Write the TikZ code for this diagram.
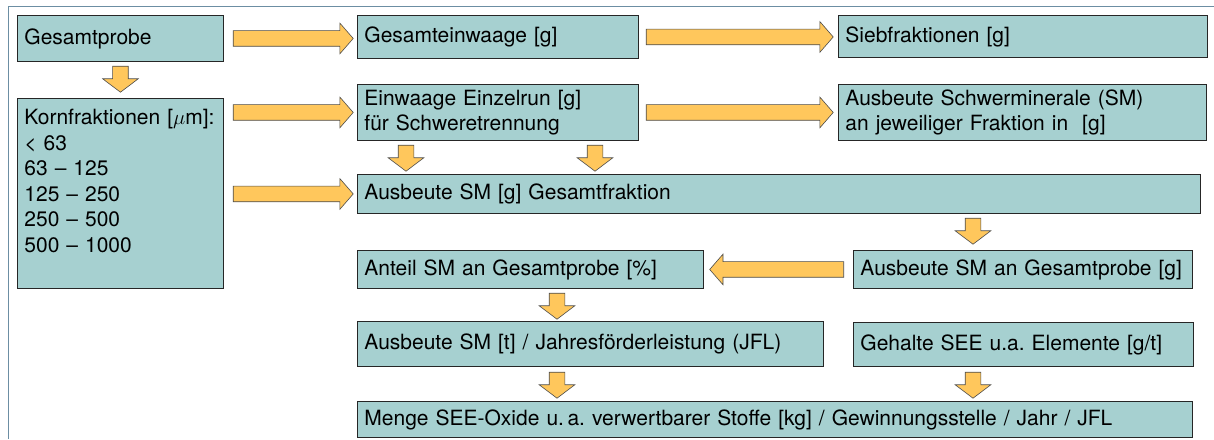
\documentclass[tikz,border=0pt]{standalone}
\usepackage{fontspec}
\setmainfont{TeX Gyre Heros}
\usetikzlibrary{positioning,shapes.arrows}
\definecolor{kastenfarbe}{HTML}{A6D0D0}
\definecolor{pfeilfarbe}{HTML}{FFC75C}
\definecolor{rahmenfarbe}{HTML}{6C8EA3}

\begin{document}
\begin{tikzpicture}[x=1pt,y=-1pt,
                    kasten/.style = {draw=black!85, line width=0.9pt, fill=kastenfarbe,
                                     anchor=north west, inner xsep=7pt, inner ysep=0pt,
                                     align=left, font=\fontsize{21}{25.5}\selectfont},
                    pfeil/.style = {single arrow, draw=black!70, line width=0.6pt, fill=pfeilfarbe,
                                    inner sep=7.5pt, minimum height=#1,
                                    single arrow head extend=7.5pt, single arrow tip angle=98},
                    rechts/.style = {pfeil=#1, anchor=west},
                    links/.style = {pfeil=#1, shape border rotate=180, anchor=east},
                    runter/.style = {pfeil=26pt, shape border rotate=270, anchor=north,
                                     single arrow head extend=10pt, single arrow tip angle=106}]
  \useasboundingbox (0,0) rectangle (1214,439);
  \draw[rahmenfarbe, line width=0.8pt] (1214,6) -- (8,6) -- (8,439);

  % Kaesten
  \node[kasten, text width=192pt, minimum height=46pt] (probe) at (17,15) {Gesamtprobe};
  \node[kasten, text width=267pt, minimum height=43pt] (einwaage) at (357,15) {Gesamteinwaage [g]};
  \node[kasten, text width=355pt, minimum height=42pt] (sieb) at (838,15) {Siebfraktionen [g]};
  \node[kasten, text width=192pt, minimum height=190pt] (korn) at (17,98)
    {Kornfraktionen [$\mu$m]:\\< 63\\63 -- 125\\125 -- 250\\250 -- 500\\500 -- 1000\\ \mbox{}};
  \node[kasten, text width=267pt, minimum height=56pt] (einzel) at (357,84)
    {Einwaage Einzelrun [g]\\für Schweretrennung};
  \node[kasten, text width=354pt, minimum height=56pt] (schwer) at (838,84)
    {Ausbeute Schwerminerale (SM)\\an jeweiliger Fraktion in~~[g]};
  \node[kasten, text width=829pt, minimum height=39pt] (gesfrak) at (357,174)
    {Ausbeute SM [g] Gesamtfraktion};
  \node[kasten, text width=325pt, minimum height=38pt] (smprobe) at (853,250)
    {Ausbeute SM an Gesamtprobe [g]};
  \node[kasten, text width=332pt, minimum height=38pt] (anteil) at (357,250)
    {Anteil SM an Gesamtprobe [\%]};
  \node[kasten, text width=452pt, minimum height=45pt] (jfl) at (357,321)
    {Ausbeute SM [t] / Jahresförderleistung (JFL)};
  \node[kasten, text width=326pt, minimum height=44pt] (see) at (853,322)
    {Gehalte SEE u.a.\ Elemente [g/t]};
  \node[kasten, text width=821pt, minimum height=36pt] (menge) at (357,401)
    {Menge SEE-Oxide u.\,a.\ verwertbarer Stoffe [kg] / Gewinnungsstelle / Jahr / JFL};

  % Pfeile
  \node[rechts=120pt, right=9pt of probe] (p1) {};
  \node[rechts=187pt, right=7pt of einwaage] (p2) {};
  \node[rechts=120pt, right=9pt of korn.east |- einzel.east] (p3) {};
  \node[rechts=187pt, right=7pt of einzel] (p4) {};
  \node[rechts=120pt, right=9pt of korn.east |- gesfrak.east] (p5) {};
  \node[links=134pt, left=9pt of smprobe] (p6) {};
  \node[runter, below=4pt of probe] (d1) {};
  \node[runter, below=4pt of einzel.south west, xshift=49pt] (d2) {};
  \node[runter, below=4pt of einzel.south west, xshift=238pt] (d3) {};
  \node[runter, below=4pt of gesfrak.south west, xshift=616pt] (d4) {};
  \node[runter, below=4pt of anteil.south west, xshift=200pt] (d5) {};
  \node[runter, below=5pt of jfl.south west, xshift=200pt] (d6) {};
  \node[runter, below=5pt of see.south west, xshift=120pt] (d7) {};
\end{tikzpicture}
\end{document}
